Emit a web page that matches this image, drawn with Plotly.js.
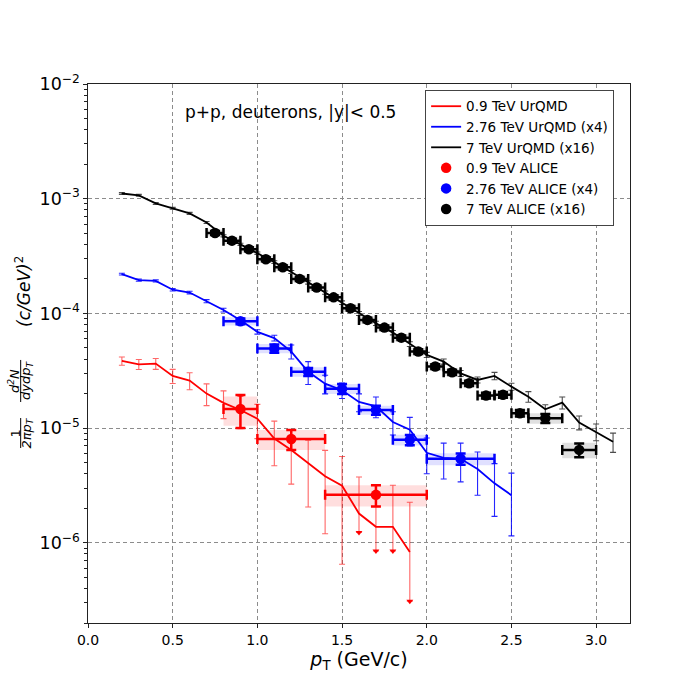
<!DOCTYPE html>
<html>
<head>
<meta charset="utf-8">
<script src="https://cdn.plot.ly/plotly-3.0.1.min.js"></script>
<style>
body { margin: 0; background: #fff; }
#chart { width: 700px; height: 700px; }
</style>
</head>
<body>
<div id="chart"></div>
<script>
// UrQMD curves (scaled x4 / x16 as in the legend)
var urqmd_red_x = [0.2,0.3,0.4,0.5,0.6,0.7,0.8,0.9,1.0,1.1,1.2,1.3,1.4,1.5,1.6,1.7,1.8,1.9];
var urqmd_red_y = [3.85e-5,3.6e-5,3.65e-5,2.85e-5,2.6e-5,2.0e-5,1.66e-5,1.44e-5,1.21e-5,8.1e-6,6.45e-6,4.95e-6,3.8e-6,3.15e-6,1.8e-6,1.38e-6,1.38e-6,8.3e-7];
var urqmd_red_err = [3.2e-6,3.6e-6,4e-6,4e-6,4.4e-6,4.3e-6,4.5e-6,4.5e-6,4e-6,3.4e-6,3.2e-6,2.9e-6,2.6e-6,2.5e-6,1.95e-6,1.8e-6,1.8e-6,1.43e-6];
// lower limits drawn as arrows
var urqmd_red_arrow = [null,null,null,null,null,null,null,null,null,null,null,null,null,null,1.23e-6,8.5e-7,8.5e-7,3.1e-7];

var urqmd_blue_x = [0.2,0.3,0.4,0.5,0.6,0.7,0.8,0.9,1.0,1.1,1.2,1.3,1.4,1.5,1.6,1.7,1.8,1.9,2.0,2.1,2.2,2.3,2.4,2.5];
var urqmd_blue_y = [2.2e-4,1.95e-4,1.92e-4,1.61e-4,1.52e-4,1.28e-4,1.07e-4,8.7e-5,6.9e-5,6.1e-5,4.65e-5,3.1e-5,2.44e-5,2.14e-5,1.69e-5,1.55e-5,1.13e-5,9.7e-6,6.1e-6,5.5e-6,5.4e-6,4.4e-6,3.3e-6,2.6e-6];
var urqmd_blue_err = [4e-6,4e-6,4e-6,4e-6,4e-6,4e-6,4e-6,4e-6,3e-6,3.5e-6,6.5e-6,7e-6,4.5e-6,3.3e-6,3e-6,3.2e-6,2.6e-6,2.7e-6,2.1e-6,1.9e-6,2.0e-6,1.8e-6,1.6e-6,1.45e-6];

var urqmd_black_x = [0.2,0.3,0.4,0.5,0.6,0.7,0.8,0.9,1.0,1.1,1.2,1.3,1.4,1.5,1.6,1.7,1.8,1.9,2.0,2.1,2.2,2.3,2.4,2.5,2.6,2.7,2.8,2.9,3.0,3.1];
var urqmd_black_y = [1.11e-3,1.07e-3,9.1e-4,8.25e-4,7.45e-4,6.2e-4,4.75e-4,4.0e-4,3.35e-4,2.8e-4,2.3e-4,1.86e-4,1.52e-4,1.24e-4,1.0e-4,8.2e-5,6.8e-5,5.4e-5,4.35e-5,3.8e-5,3.0e-5,2.63e-5,2.85e-5,2.3e-5,1.88e-5,1.46e-5,1.67e-5,1.12e-5,9.3e-6,7.6e-6];
var urqmd_black_err = [2e-5,2e-5,1.8e-5,1.6e-5,1.5e-5,1.2e-5,1e-5,9e-6,8e-6,8e-6,7e-6,6e-6,5e-6,4.5e-6,4e-6,3.5e-6,3e-6,2.6e-6,2.2e-6,2e-6,1.8e-6,1.6e-6,2.1e-6,1.6e-6,2.0e-6,1.4e-6,2.0e-6,1.55e-6,1.55e-6,1.45e-6];

// ALICE data
var alice_red_x = [0.9,1.2,1.7];
var alice_red_xerr = [0.1,0.2,0.3];
var alice_red_y = [1.47e-5,8.05e-6,2.62e-6];
var alice_red_stat = [4.7e-6,1.6e-6,5.5e-7];
var alice_red_sys = [4.2e-6,1.6e-6,5.5e-7];

var alice_blue_x = [0.9,1.1,1.3,1.5,1.7,1.9,2.2];
var alice_blue_xerr = [0.1,0.1,0.1,0.1,0.1,0.1,0.2];
var alice_blue_y = [8.55e-5,4.95e-5,3.1e-5,2.2e-5,1.44e-5,7.9e-6,5.4e-6];
var alice_blue_stat = [5e-6,4e-6,2.5e-6,2.2e-6,1.3e-6,8e-7,6e-7];
var alice_blue_sys = [7e-6,4.5e-6,3e-6,2.2e-6,1.3e-6,8.5e-7,6.5e-7];

var alice_black_x = [0.75,0.85,0.95,1.05,1.15,1.25,1.35,1.45,1.55,1.65,1.75,1.85,1.95,2.05,2.15,2.25,2.35,2.45,2.55,2.7,2.9];
var alice_black_xerr = [0.05,0.05,0.05,0.05,0.05,0.05,0.05,0.05,0.05,0.05,0.05,0.05,0.05,0.05,0.05,0.05,0.05,0.05,0.05,0.1,0.1];
var alice_black_y = [5.03e-4,4.31e-4,3.63e-4,2.97e-4,2.53e-4,2.0e-4,1.68e-4,1.38e-4,1.11e-4,8.78e-5,7.52e-5,6.15e-5,4.65e-5,3.44e-5,3.07e-5,2.46e-5,1.92e-5,1.95e-5,1.35e-5,1.22e-5,6.46e-6];
var alice_black_stat = [2e-5,1.7e-5,1.5e-5,1.2e-5,1e-5,8e-6,7e-6,6e-6,5e-6,4e-6,3.4e-6,2.8e-6,2.2e-6,1.7e-6,1.6e-6,1.3e-6,1.1e-6,1.1e-6,9e-7,1.1e-6,9e-7];
var alice_black_sys = [3.5e-5,3e-5,2.5e-5,2.1e-5,1.8e-5,1.4e-5,1.2e-5,1e-5,8e-6,6.5e-6,5.5e-6,4.5e-6,3.4e-6,2.6e-6,2.3e-6,1.9e-6,1.5e-6,1.5e-6,1.1e-6,1.3e-6,1.0e-6];

var FONT = "DejaVu Sans, Liberation Sans, sans-serif";

// systematic boxes, one filled polygon per point
function sysBoxes(x, xe, y, sys, fill) {
    var bx = [], by = [];
    for (var i = 0; i < x.length; i++) {
        var x0 = x[i] - xe[i], x1 = x[i] + xe[i];
        var y0 = y[i] - sys[i], y1 = y[i] + sys[i];
        bx.push(x0, x1, x1, x0, x0, null);
        by.push(y0, y0, y1, y1, y0, null);
    }
    return {
        x: bx, y: by, mode: 'lines', fill: 'toself', fillcolor: fill,
        line: {width: 0}, connectgaps: false, hoverinfo: 'skip', showlegend: false
    };
}

function urqmd(name, x, y, plus, minus, color, errcolor) {
    return {
        name: name, x: x, y: y, mode: 'lines', type: 'scatter',
        line: {color: color, width: 1.8},
        error_y: {type: 'data', symmetric: false, array: plus, arrayminus: minus,
                  color: errcolor, thickness: 1.1, width: 3}
    };
}

function alice(name, x, xe, y, stat, color) {
    return {
        name: name, x: x, y: y, mode: 'markers', type: 'scatter',
        marker: {color: color, size: 10.5},
        error_x: {type: 'data', array: xe, color: color, thickness: 2.5, width: 5},
        error_y: {type: 'data', array: stat, color: color, thickness: 2.5, width: 5}
    };
}

// red lower error: down to the arrow where given
var red_minus = [];
var arrow_x = [], arrow_y = [];
for (var i = 0; i < urqmd_red_y.length; i++) {
    if (urqmd_red_arrow[i] !== null) {
        red_minus.push(urqmd_red_y[i] - urqmd_red_arrow[i]);
        arrow_x.push(urqmd_red_x[i]);
        arrow_y.push(urqmd_red_arrow[i]);
    } else {
        red_minus.push(urqmd_red_err[i]);
    }
}

var data = [
    sysBoxes(alice_red_x, alice_red_xerr, alice_red_y, alice_red_sys, 'rgba(255,0,0,0.13)'),
    sysBoxes(alice_blue_x, alice_blue_xerr, alice_blue_y, alice_blue_sys, 'rgba(0,0,255,0.12)'),
    sysBoxes(alice_black_x, alice_black_xerr, alice_black_y, alice_black_sys, 'rgba(0,0,0,0.12)'),
    urqmd('0.9 TeV UrQMD', urqmd_red_x, urqmd_red_y, urqmd_red_err, red_minus, '#ff0000', 'rgba(255,0,0,0.6)'),
    urqmd('2.76 TeV UrQMD (x4)', urqmd_blue_x, urqmd_blue_y, urqmd_blue_err, urqmd_blue_err, '#0000ff', 'rgba(0,0,255,0.85)'),
    urqmd('7 TeV UrQMD (x16)', urqmd_black_x, urqmd_black_y, urqmd_black_err, urqmd_black_err, '#000000', 'rgba(0,0,0,0.7)'),
    alice('0.9 TeV ALICE', alice_red_x, alice_red_xerr, alice_red_y, alice_red_stat, '#ff0000'),
    alice('2.76 TeV ALICE (x4)', alice_blue_x, alice_blue_xerr, alice_blue_y, alice_blue_stat, '#0000ff'),
    alice('7 TeV ALICE (x16)', alice_black_x, alice_black_xerr, alice_black_y, alice_black_stat, '#000000'),
    {
        x: arrow_x, y: arrow_y, mode: 'markers', showlegend: false, hoverinfo: 'skip',
        marker: {symbol: 'triangle-down', size: 6, color: '#ff0000'}
    }
];

// y label pieces, rotated like the original mathtext label
function ylab(text, x, y, size) {
    return {text: text, xref: 'paper', yref: 'paper', x: x, y: y, textangle: -90,
            xanchor: 'center', yanchor: 'middle', showarrow: false, font: {size: size}};
}
function fracBar(x, y0, y1) {
    return {type: 'line', xref: 'paper', yref: 'paper', x0: x, x1: x, y0: y0, y1: y1,
            line: {color: '#000', width: 1}};
}

var layout = {
    width: 700,
    height: 700,
    margin: {l: 88, r: 70, t: 84, b: 77, pad: 0},
    paper_bgcolor: '#fff',
    plot_bgcolor: '#fff',
    font: {family: FONT, size: 14, color: '#000'},
    showlegend: true,
    xaxis: {
        range: [0, 3.2],
        tick0: 0, dtick: 0.5, tickformat: '.1f',
        ticks: 'outside', ticklen: 4, tickcolor: '#222',
        showline: true, linecolor: '#222', linewidth: 1.3, mirror: true,
        showgrid: true, gridcolor: '#8c8c8c', griddash: '4px,3px', gridwidth: 1,
        zeroline: false,
        title: {text: '<i>p</i><sub>T</sub> (GeV/c)', font: {size: 19}, standoff: 4}
    },
    yaxis: {
        type: 'log',
        range: [Math.log10(2e-7), -2],
        dtick: 1, exponentformat: 'power', showexponent: 'all',
        ticks: 'outside', ticklen: 4, tickcolor: '#222',
        minor: {ticks: 'outside', ticklen: 2.5, tickcolor: '#222', dtick: 'D1', showgrid: false},
        showline: true, linecolor: '#222', linewidth: 1.3, mirror: true,
        showgrid: true, gridcolor: '#8c8c8c', griddash: '4px,3px', gridwidth: 1,
        zeroline: false
    },
    legend: {
        x: 0.622, y: 0.989, xanchor: 'left', yanchor: 'top',
        bgcolor: '#fff', bordercolor: '#444', borderwidth: 1,
        font: {size: 13.5}, tracegroupgap: 0
    },
    annotations: [
        {text: 'p+p, deuterons, |y|< 0.5', xref: 'paper', yref: 'paper',
         x: 0.373, y: 0.948, xanchor: 'center', yanchor: 'middle',
         showarrow: false, font: {size: 17}},
        ylab('1', -0.1338, 0.3525, 13),
        ylab('<i>2πp<sub>T</sub></i>', -0.1125, 0.3516, 13),
        ylab('<i>d<sup>2</sup>N</i>', -0.1365, 0.449, 13),
        ylab('<i>dydp<sub>T</sub></i>', -0.1125, 0.449, 13),
        ylab('<i>(c/GeV)</i><sup>2</sup>', -0.12, 0.616, 17)
    ],
    shapes: [
        fracBar(-0.1242, 0.3247, 0.3803),
        fracBar(-0.1242, 0.410, 0.488)
    ]
};

Plotly.newPlot('chart', data, layout, {displayModeBar: false, staticPlot: true});
</script>
</body>
</html>
